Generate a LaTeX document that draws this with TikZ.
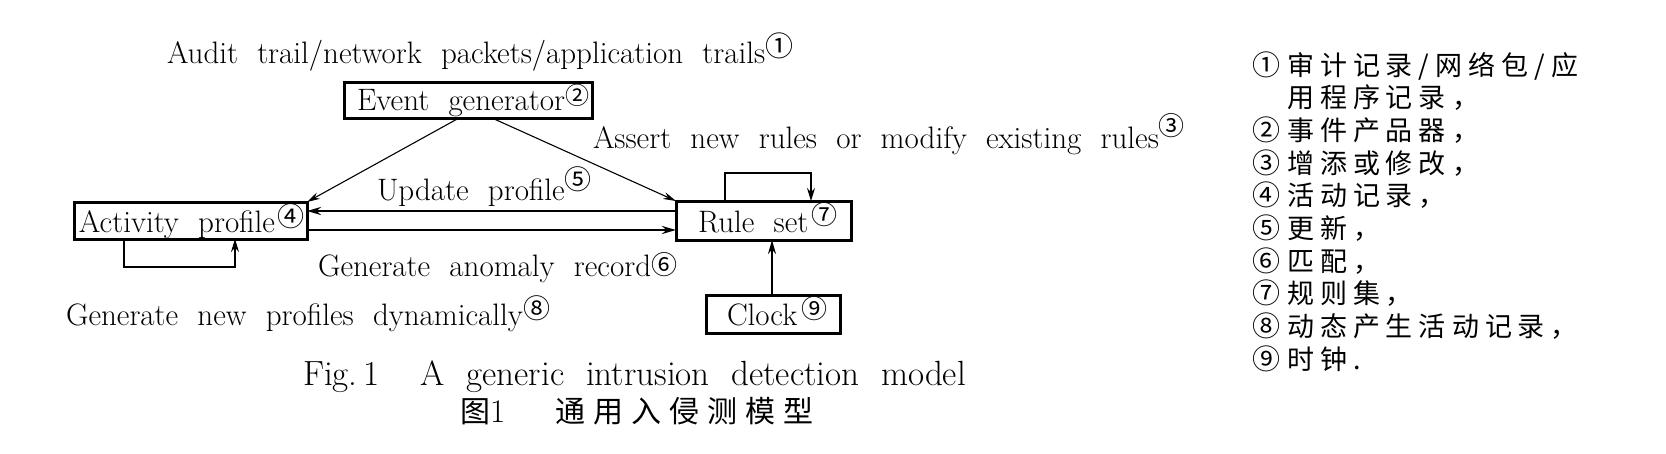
\documentclass[tikz,border=0pt]{standalone}
\usepackage{fontspec}
\newfontfamily\cjk{Noto Sans CJK SC}
\usetikzlibrary{arrows.meta,calc}
\newlength\lsgap
\setlength\lsgap{6pt}
\def\lsend{}
\def\ls#1{\lsx#1\lsend}
\def\lsx#1{\ifx#1\lsend\else#1\hspace{\lsgap}\expandafter\lsx\fi}
\newcommand\circn[3]{\raisebox{#2pt}{\fontsize{#1}{#1}\cjk #3}}
\newcommand\dfont{\fontsize{31}{36}\selectfont\spaceskip=0.62em plus 0.1em minus 0.1em\relax}
\newcommand\capfont{\fontsize{35}{40}\selectfont\spaceskip=0.62em plus 0.1em minus 0.1em\relax}
\newcommand\lgfont{\fontsize{27}{27}\cjk}
\newcommand\lgnum[1]{\makebox[35pt][l]{\fontsize{28}{28}\cjk #1}}
\begin{document}
\begin{tikzpicture}[x=1pt,y=-1pt,
  every node/.style={inner sep=0pt,outer sep=0pt},
  box/.style={draw,line width=3pt,rectangle,font=\dfont},
  lbl/.style={anchor=base west,font=\dfont},
  lg/.style={anchor=base west,font=\lgfont},
  thinarr/.style={line width=1.1pt,-{Stealth[length=13pt,width=7pt]}},
  thickarr/.style={line width=2.4pt,-{Stealth[length=14pt,width=8pt]}},
  looparr/.style={line width=1.3pt,-{Stealth[length=13pt,width=8pt]}}]
\useasboundingbox (0,0) rectangle (1666,453);
\fill[white] (0,0) rectangle (1666,453);

% texts
\node[lbl] (src) at (167,63) {Audit trail/network packets/application trails\circn{28}{7}{①}};
\node[lbl] (assert) at (593,148) {Assert new rules or modify existing rules\circn{26}{13}{③}};
\node[lbl] (upd) at (377,200) {Update profile\circn{27}{11}{⑤}};
\node[lbl] (gen) at (318,276) {Generate anomaly record\circn{26}{1.5}{⑥}};
\node[lbl] (dyn) at (66,325) {Generate new profiles dynamically\circn{27}{7}{⑧}};

% boxes
\node[box,minimum width=248pt,minimum height=36pt,text height=28pt,text depth=8pt] (ev) at (468,100)
  {\makebox[248pt][l]{\hspace{13pt}Event generator\circn{24}{6}{②}}};
\node[box,minimum width=233pt,minimum height=37pt,text height=30pt,text depth=7pt] (ap) at (190.5,220.5)
  {\makebox[233pt][l]{\hspace{5pt}Activity profile\hspace{2pt}\circn{27}{6}{④}}};
\node[box,minimum width=175pt,minimum height=39pt,text height=31pt,text depth=8pt] (rs) at (763.5,220.5)
  {\makebox[175pt][l]{\hspace{22pt}Rule set\hspace{3pt}\circn{26}{8}{⑦}}};
\node[box,minimum width=134pt,minimum height=38pt,text height=30pt,text depth=8pt] (ck) at (773,314)
  {\makebox[134pt][l]{\hspace{21pt}Clock\hspace{4pt}\circn{26}{7}{⑨}}};

% connectors
\draw[thinarr] ([xshift=-9pt]ev.south) -- (ap.north east);
\draw[thinarr] ([xshift=24pt]ev.south) -- (rs.north west);
\draw[thickarr] ([yshift=9.5pt]rs.west) -- ([yshift=9.5pt]ap.east);
\draw[thickarr] ([yshift=-9.5pt]ap.east) -- ([yshift=-9.5pt]rs.west);
\draw[looparr] ([xshift=-66.5pt]ap.south) -- ++(0,28) -| ([xshift=44.5pt]ap.south);
\draw[looparr] ([xshift=-38.5pt]rs.north) -- ++(0,-28) -| ([xshift=47.5pt]rs.north);
\draw[thickarr,line width=1.8pt] ([xshift=-1pt]ck.north) -- ([xshift=-1pt]ck.north |- rs.south);

% caption
\node[anchor=base west,font=\capfont] (capen) at (303,385) {Fig.\hspace{6pt}1\hspace{41pt}A generic intrusion detection model};
\node[anchor=base west] (capzh) at (460,422) {{\fontsize{30}{30}\cjk 图}{\fontsize{33}{33}\selectfont 1}\hspace{50pt}{\setlength\lsgap{8pt}\fontsize{30}{30}\cjk\ls{通用入侵测模型}}};

% legend
\node[lg] (lg1) at (1252,75) {\lgnum{①}\ls{审计记录/网络包/应}};
\node[lg] (lg2) at (1252,107.7) {\hspace{35pt}\ls{用程序记录，}};
\node[lg] (lg3) at (1252,140.4) {\lgnum{②}\ls{事件产品器，}};
\node[lg] (lg4) at (1252,173.1) {\lgnum{③}\ls{增添或修改，}};
\node[lg] (lg5) at (1252,205.8) {\lgnum{④}\ls{活动记录，}};
\node[lg] (lg6) at (1252,238.5) {\lgnum{⑤}\ls{更新，}};
\node[lg] (lg7) at (1252,271.2) {\lgnum{⑥}\ls{匹配，}};
\node[lg] (lg8) at (1252,303.9) {\lgnum{⑦}\ls{规则集，}};
\node[lg] (lg9) at (1252,336.6) {\lgnum{⑧}\ls{动态产生活动记录，}};
\node[lg] (lg10) at (1252,369.3) {\lgnum{⑨}\ls{时钟.}};
\end{tikzpicture}
\end{document}
